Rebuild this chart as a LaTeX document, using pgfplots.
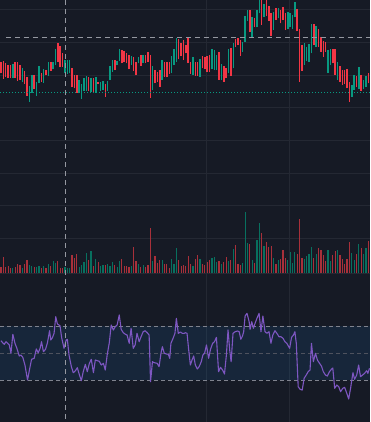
\documentclass[border=0pt]{standalone}
\usepackage{pgfplots}
\pgfplotsset{compat=1.18}
\usepackage{pgfplotstable}
\definecolor{bgc}{HTML}{161A25}
\definecolor{gridc}{HTML}{242833}
\definecolor{cup}{HTML}{089981}
\definecolor{cdn}{HTML}{F23645}
\definecolor{vup}{HTML}{08705F}
\definecolor{vdn}{HTML}{A8303A}
\definecolor{rsic}{HTML}{7E57C2}
\definecolor{bandc}{HTML}{2196F3}
\definecolor{crossc}{HTML}{9598A1}
\definecolor{bandl}{HTML}{80838E}
\definecolor{midc}{HTML}{4E525E}

% candles: index, top (px), bottom (px), volume height (px)
\pgfplotstableread{
i top bot vol
5 64 77.7 5
9 68.3 81.7 5.7
12 86 101.7 8.3
13 75 92.7 7.3
15 81.7 95.7 6.7
16 66 83.3 7.3
18 69.3 82.7 7.3
20 62 76 9.3
22 61.7 69.3 12.3
23 49.3 65.3 10
27 60 73.3 6.7
28 60 74 5.3
29 60 73.3 5.3
33 80 93.3 6.7
34 84 99 8.3
35 78.3 90.7 11.3
36 76 90.7 20.7
38 78.3 91.7 22.3
40 77.3 92.7 14
42 81.7 90.7 7.3
43 81 90 8.3
45 81.3 90.7 9.3
46 66 80 7.3
47 60 71.7 11.3
49 60.7 65.3 6.7
50 49.3 61 12.3
55 56 65 7.3
58 56.7 63.3 9.3
60 55 62.7 8
64 66 90 12.3
68 60 80 13
72 56 73.3 14
73 49.3 65 9.3
74 38.3 61.7 25.3
81 57.3 75 7.3
84 59.3 76.7 14
89 49.3 69.3 15
90 50 70 16.3
91 55 70 11.3
93 64 80 9.3
96 49 72.7 12.7
98 43.3 68.3 24.3
102 41.7 51.7 10.3
103 16 41.7 61.3
104 10 20.7 30.3
106 17.3 36.7 13.3
108 10 27.3 33.3
109 0 13.3 50.3
111 4 16.7 27.3
115 11.7 30 15.3
117 8.3 18.3 13.3
121 11.7 29.3 13.3
122 13.3 26.7 21.3
123 15 29.3 10.3
124 1.7 17.3 21.3
128 43.3 65 14.3
129 46.7 60.7 17.3
130 44 61.7 19.3
131 24 53.3 26.3
133 26 46.7 19.3
138 50 72.7 23.3
139 49.3 65 12.3
142 61.7 80 23.3
148 85 96.7 20.3
149 75 90 13.3
151 67.3 89.3 29.3
153 80 89.3 19.3
154 76 86.7 25.3
}\upTab

\pgfplotstableread{
i top bot vol
0 61.7 73.3 6.7
1 61 79 16.7
2 63.3 76.7 6
3 65 77.7 7.3
4 65.3 78.3 5
6 62 78 6
7 62 80.7 9.3
8 65 80 8.3
10 71 84 9.3
11 77.3 95.7 13.3
14 75 89.3 6.7
17 72.7 81.7 5
19 70 75.3 5
21 61.7 70.7 7.3
24 43.3 61.7 12.3
25 46 67.3 5.7
26 53.3 66.7 5.7
30 68.3 87.3 18.3
31 75 88.3 15.7
32 75 92.7 19.3
37 77.3 90.7 13.3
39 78.3 92.7 7.3
41 82 84 11
44 84.3 96.7 8.3
48 60 70 8.3
51 50 63.3 14
52 51 62.3 7.3
53 53.3 63.3 7.3
54 55 69.3 6.3
56 56.7 70.7 26.3
57 61.7 75 12.3
59 55 66 6.7
61 55 62.7 6.7
62 51.7 61.7 8.3
63 55 97.7 45.3
65 70 83.3 17.3
66 71.7 81.7 10
67 70 86.7 13.3
69 62.3 76.7 9.3
70 61.7 77.3 9.3
71 61.7 74 5.3
75 39.3 59.3 13.3
76 43.3 56 7.3
77 40 60 8.3
78 45 53.3 7.3
79 38.3 62.7 17.3
80 61.7 74 9.3
82 61.7 76 14
83 61.7 76 18.3
85 56 68.3 9.3
86 57.3 69.3 8.3
87 56 71.7 11.3
88 55 71.7 13.3
92 51.7 80 12.3
94 66 81.7 11.3
95 68.3 78.3 16.3
97 48.3 76 13.3
99 39 47.3 28.3
100 38.3 45 9.3
101 40 56 8.3
105 10 31.7 29.3
107 18.3 27.3 10.7
110 0 25 40.3
112 0 16 31.3
113 6 20.7 26.3
114 12.7 36 27.3
116 8.3 20 9.3
118 10 23.3 14.3
119 6.7 20 23.3
120 13.3 30 15.3
125 9 30.7 19.3
126 29 81.7 54.3
127 45 70.7 15.3
132 24 45 15.3
134 29.3 46.7 25.3
135 36.7 51.7 23.3
136 40.7 56.7 18.3
137 41.7 51.7 12.3
140 49.3 63.3 18.3
141 49.3 75 22.3
143 66 81.7 18.3
144 70 85 14.3
145 70 84 9.3
146 69.3 88.3 14.3
147 81.7 101.7 31.3
150 76 87.3 19.3
152 75 90.7 25.3
155 73.3 83.3 32.3
}\dnTab

\begin{document}
\begin{tikzpicture}
\begin{axis}[
  scale only axis, width=370pt, height=422pt,
  xmin=-0.42, xmax=155.7, ymin=0, ymax=422, y dir=reverse,
  axis line style={draw=none}, major tick length=0pt,
  xtick={86.9,121.9}, ytick={10,43,75.5,108,140.5,173,205.5,238.5,273.3},
  xticklabels={}, yticklabels={},
  xmajorgrids, ymajorgrids,
  major grid style={draw=gridc, line width=1pt},
  axis background/.style={fill=bgc},
]
\coordinate (SW) at (rel axis cs:0,0);
\coordinate (NE) at (rel axis cs:1,1);
% RSI band
\addplot[draw=none, fill=bandc, fill opacity=0.1] coordinates {(-0.42,326) (155.7,326) (155.7,380) (-0.42,380)};
\addplot[draw=bandl, line width=1pt, dash pattern=on 4pt off 3pt] coordinates {(-0.42,326) (155.7,326)};
\addplot[draw=bandl, line width=1pt, dash pattern=on 4pt off 3pt] coordinates {(-0.42,380) (155.7,380)};
\addplot[draw=midc, line width=1pt, dash pattern=on 4pt off 3pt] coordinates {(-0.42,353) (155.7,353)};
% RSI line
\addplot[draw=rsic, line width=1.1pt, line join=round] coordinates {
(0,340.7) (0.7,342.7) (1.4,344.3) (2.1,341.7) (2.8,343.3) (3.5,345) (4.2,353.3) (5.0,334.3)
(5.9,343.3) (6.7,348.3) (7.7,356) (8.4,355) (9.2,357.3) (10.1,365) (11.2,380) (12.0,370)
(12.9,359.3) (14.0,358.3) (14.9,349) (15.7,352.7) (16.5,348.3) (17.1,341.7) (17.9,351.7) (18.8,349.3)
(19.6,342.7) (20.5,330.7) (21.0,340) (21.7,337.7) (22.4,333.3) (23.1,316.7) (23.8,324) (24.9,325.7)
(25.6,337.7) (26.6,348.3) (27.5,340) (28.0,339.3) (28.7,355) (29.7,366.7) (30.5,372.7) (31.4,370.7)
(32.2,367.7) (33.1,375) (33.9,380.7) (34.7,371.7) (35.6,364.3) (36.4,371.7) (37.3,363.3) (38.1,359.3)
(39.0,372.7) (39.8,360) (40.6,360.7) (41.5,361.3) (42.3,365) (43.2,363.3) (44.0,370) (44.8,355)
(45.7,342.7) (46.5,325) (47.4,330) (48.2,326.7) (49.0,325) (49.9,315) (50.7,329.3) (51.6,332.7)
(52.5,334.3) (53.2,335) (54.1,343.3) (54.9,328.3) (55.8,348.3) (56.6,345) (57.4,333.3) (58.3,341.7)
(59.1,336.7) (60.0,331.7) (60.8,330.7) (61.7,332.7) (62.5,335) (63.1,381.7) (63.9,361.7) (64.7,362.7)
(65.9,363.3) (66.7,366.7) (67.5,353.3) (68.1,346.7) (68.9,353.3) (69.8,354) (70.6,354.3) (71.2,358.3)
(71.7,343.3) (72.6,338.3) (73.4,333.3) (74.0,318.3) (74.8,333.3) (75.7,332) (76.5,333.3) (77.3,333.3)
(77.8,332.7) (78.5,333.3) (79.2,350) (79.9,365) (80.6,360) (81.3,356) (82.0,365) (82.8,369)
(83.6,366.7) (84.5,361.7) (85.2,355) (85.9,353.3) (86.7,345) (87.6,358.3) (88.4,349.3) (89.3,343.3)
(90.1,341.7) (90.9,337.3) (91.8,371.7) (92.6,367.3) (93.5,370) (94.3,374) (95.1,355) (95.8,330)
(96.5,350) (97.1,361.7) (97.9,333.3) (98.8,331.7) (99.8,331) (100.5,331.7) (101.2,339.3) (101.9,336)
(102.4,331.7) (103.0,316) (103.8,313.3) (104.7,321.7) (105.1,329.3) (105.8,321.7) (106.5,328.3) (107.2,323.3)
(108.0,318.3) (108.9,313.3) (109.7,331.7) (110.5,316) (111.4,331.7) (112.2,333.3) (113.1,331.7) (113.9,343.3)
(114.7,335) (115.6,330.7) (116.4,333.3) (117.3,336.7) (118.1,336.7) (119.0,338.3) (119.8,341.7) (120.6,343.3)
(121.8,348.3) (122.6,337.3) (123.4,335) (124.0,331.7) (124.6,343.3) (125.4,386.7) (126.2,389.3) (127.1,390)
(127.9,378.3) (128.8,375) (129.6,371.7) (130.4,370) (131.0,343.3) (131.8,361.7) (132.7,353.3) (133.5,360)
(134.4,363.3) (135.2,366) (136.0,371.7) (136.9,375) (137.7,376) (138.6,371.7) (139.4,369.3) (140.0,368)
(140.8,388.3) (141.7,385) (142.5,386.7) (143.3,391.7) (144.2,388.3) (145.0,387.3) (145.9,393.3) (146.7,399)
(147.5,388.3) (148.5,372.7) (149.2,379.3) (150.1,375) (150.9,365) (151.7,376.7) (152.6,375) (153.4,373.3)
(154.3,370.7) (154.8,373.3) (155.5,368.3)
};
% volume
\addplot[draw=vdn, line width=1.2pt, quiver={u=0, v=-\thisrow{vol}}] table[x=i, y expr=273.3] {\dnTab};
\addplot[draw=vup, line width=1.2pt, quiver={u=0, v=-\thisrow{vol}}] table[x=i, y expr=273.3] {\upTab};
% candles
\addplot[draw=cdn, line width=1.5pt, quiver={u=0, v=\thisrow{top}-\thisrow{bot}}] table[x=i, y=bot] {\dnTab};
\addplot[draw=cup, line width=1.5pt, quiver={u=0, v=\thisrow{top}-\thisrow{bot}}] table[x=i, y=bot] {\upTab};
% price line
\addplot[draw=cup, line width=1pt, dash pattern=on 1pt off 2pt] coordinates {(-0.42,92.3) (155.7,92.3)};
% crosshair
\addplot[draw=crossc, line width=1pt, dash pattern=on 5pt off 4pt] coordinates {(27.2,0) (27.2,422)};
\addplot[draw=crossc, line width=1pt, dash pattern=on 5pt off 4pt] coordinates {(2.1,37.3) (155.7,37.3)};
\end{axis}
\pgfresetboundingbox
\useasboundingbox (SW) rectangle (NE);
\end{tikzpicture}
\end{document}
